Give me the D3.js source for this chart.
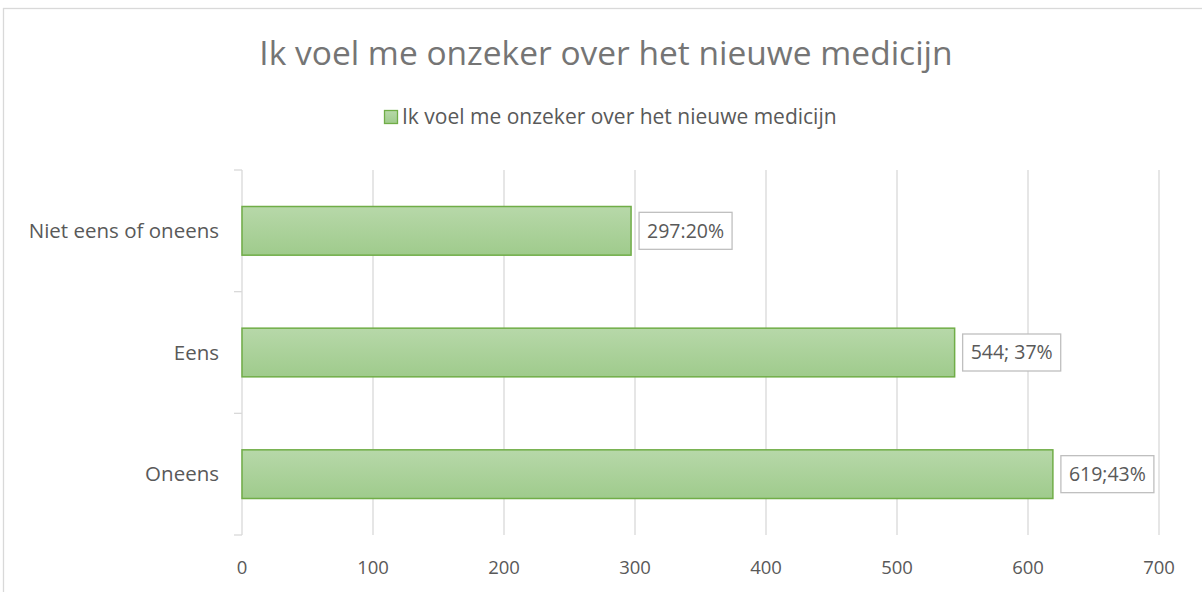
<!DOCTYPE html>
<meta charset="utf-8">
<head>
  <title>Ik voel me onzeker</title>
</head>
<style>
  body { margin: 0; background: #fff; font-family: "Open Sans", Lato, sans-serif; }
  svg { display: block; }
  .grid line { stroke: #d9d9d9; stroke-width: 1.3px; }
  .axis text { fill: #595959; font-size: 20.5px; }
  .axis.ticks text { font-size: 18.5px; }
  .bar { stroke: #70ad47; stroke-width: 1.5px; }
  .lbl rect { fill: #fff; stroke: #bfbfbf; stroke-width: 1.3px; }
  .lbl text { fill: #595959; font-size: 19.5px; }
</style>
<body>
<svg width="1202" height="592"></svg>
<script src="https://cdn.jsdelivr.net/npm/d3@7"></script>
<script>
  // data
  var categories = ["Niet eens of oneens", "Eens", "Oneens"];
  var values = [297, 544, 619];
  var labels = ["297:20%", "544; 37%", "619;43%"];
  var xTicks = [0, 100, 200, 300, 400, 500, 600, 700];
  var title = "Ik voel me onzeker over het nieuwe medicijn";

  var svg = d3.select("svg");

  // chart frame
  svg.append("rect")
    .attr("x", 3.5).attr("y", 8.5)
    .attr("width", 1220).attr("height", 600)
    .attr("fill", "none").attr("stroke", "#d9d9d9").attr("stroke-width", 1.3);

  var plotL = 242, plotR = 1159, plotT = 170, plotB = 535;

  var x = d3.scaleLinear().domain([0, 700]).range([plotL, plotR]);
  var y = d3.scaleBand().domain(categories).range([plotT, plotB]).paddingInner(0.6).paddingOuter(0.3);

  // gradient for bars
  var grad = svg.append("defs").append("linearGradient")
    .attr("id", "g").attr("x1", 0).attr("y1", 0).attr("x2", 0).attr("y2", 1);
  grad.append("stop").attr("offset", "0%").attr("stop-color", "#b7d8a9");
  grad.append("stop").attr("offset", "100%").attr("stop-color", "#9fcb8c");

  // gridlines
  svg.append("g").attr("class", "grid")
    .selectAll("line").data(xTicks.slice(1)).enter().append("line")
    .attr("x1", function(d) { return x(d); }).attr("x2", function(d) { return x(d); })
    .attr("y1", plotT).attr("y2", plotB);

  // y axis line and category ticks
  var yAxis = svg.append("g").attr("class", "grid");
  yAxis.append("line").attr("x1", plotL).attr("x2", plotL).attr("y1", plotT).attr("y2", plotB);
  var step = (plotB - plotT) / categories.length;
  yAxis.selectAll(".tk").data(d3.range(categories.length + 1)).enter().append("line")
    .attr("x1", plotL - 8).attr("x2", plotL)
    .attr("y1", function(i) { return plotT + i * step; })
    .attr("y2", function(i) { return plotT + i * step; });

  // bars
  svg.selectAll(".bar").data(values).enter().append("rect")
    .attr("class", "bar")
    .attr("x", x(0))
    .attr("y", function(d, i) { return y(categories[i]); })
    .attr("width", function(d) { return x(d) - x(0); })
    .attr("height", y.bandwidth())
    .attr("fill", "url(#g)");

  // category labels
  svg.append("g").attr("class", "axis").selectAll("text").data(categories).enter().append("text")
    .attr("x", 219)
    .attr("y", function(d) { return y(d) + y.bandwidth() / 2; })
    .attr("dy", "0.35em")
    .attr("text-anchor", "end")
    .text(function(d) { return d; });

  // x tick labels
  svg.append("g").attr("class", "axis ticks").selectAll("text").data(xTicks).enter().append("text")
    .attr("x", function(d) { return x(d); })
    .attr("y", 574)
    .attr("text-anchor", "middle")
    .text(function(d) { return d; });

  // data labels
  var lbl = svg.selectAll(".lbl").data(values).enter().append("g").attr("class", "lbl");
  lbl.each(function(d, i) {
    var g = d3.select(this);
    var cy = y(categories[i]) + y.bandwidth() / 2;
    var t = g.append("text")
      .attr("x", x(d) + 16)
      .attr("y", cy)
      .attr("dy", "0.35em")
      .text(labels[i]);
    var w = t.node().getComputedTextLength();
    g.insert("rect", "text")
      .attr("x", x(d) + 8).attr("y", cy - 18.5)
      .attr("width", w + 16).attr("height", 37);
  });

  // title
  svg.append("text")
    .attr("x", 606).attr("y", 65)
    .attr("text-anchor", "middle")
    .attr("fill", "#757575")
    .style("font-size", "33.5px")
    .text(title);

  // legend
  var leg = svg.append("g");
  leg.append("rect")
    .attr("x", 384.5).attr("y", 110.5).attr("width", 13).attr("height", 13)
    .attr("fill", "url(#g)").attr("stroke", "#70ad47").attr("stroke-width", 1.3);
  leg.append("text")
    .attr("x", 402).attr("y", 117).attr("dy", "0.35em")
    .attr("fill", "#595959").style("font-size", "21px")
    .text(title);
</script>
</body>
</html>
